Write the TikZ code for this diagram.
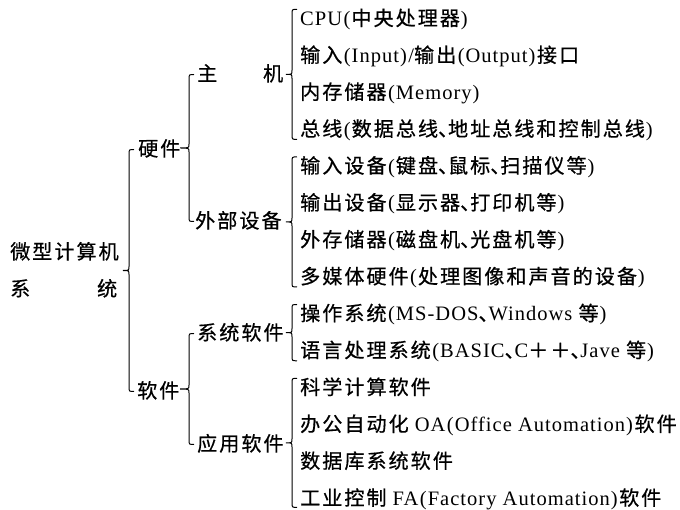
\documentclass[tikz,border=0pt]{standalone}
\usepackage{fontspec}
\setmainfont[LetterSpace=5]{Liberation Serif}
\newfontfamily\cjk[Scale=0.98,LetterSpace=10,FakeBold=0.6]{Noto Sans CJK SC}
\newcommand\zh[1]{{\cjk #1}}
\newcommand\lp{\hspace{1.5pt}(\hspace{1pt}}
\newcommand\rp{\hspace{1pt})\hspace{1.5pt}}
\newcommand\dn{\makebox[10pt][l]{\cjk 、}}
\usetikzlibrary{calc}
\tikzset{
  lbl/.style={anchor=base west, inner sep=0pt, text height=16pt, text depth=3pt,
    font=\fontsize{20.5}{22}\selectfont},
  brk/.style={line width=1pt, to path={let \p1=(\tikztostart), \p2=(\tikztotarget),
     \p3=($(\tikztostart)!0.5!(\tikztotarget)$) in
     (\x1,\y1) .. controls (\x1-5pt,\y1) .. (\x1-5pt,\y1-5pt)
     -- (\x1-5pt,\y3+4pt) .. controls (\x1-5pt,\y3) .. (\x1-5pt-#1,\y3)
     .. controls (\x1-5pt,\y3) .. (\x1-5pt,\y3-4pt)
     -- (\x1-5pt,\y2+5pt) .. controls (\x1-5pt,\y2) .. (\x1,\y2)}}
}
\begin{document}
\begin{tikzpicture}[x=1pt,y=-1pt]
\useasboundingbox (0,0) rectangle (680,510);
% right column items
\node[lbl] (i1) at (300,25.5) {CPU\lp\zh{中央处理器}\rp};
\node[lbl] (i2) at (300,62.4) {\zh{输入}\lp Input\rp/\zh{输出}\lp Output\rp\zh{接口}};
\node[lbl] (i3) at (300,99.3) {\zh{内存储器}\lp Memory\rp};
\node[lbl] (i4) at (300,136.2) {\zh{总线}\lp\zh{数据总线}\dn\zh{地址总线和控制总线}\rp};
\node[lbl] (i5) at (300,173.1) {\zh{输入设备}\lp\zh{键盘}\dn\zh{鼠标}\dn\zh{扫描仪等}\rp};
\node[lbl] (i6) at (300,210) {\zh{输出设备}\lp\zh{显示器}\dn\zh{打印机等}\rp};
\node[lbl] (i7) at (300,246.9) {\zh{外存储器}\lp\zh{磁盘机}\dn\zh{光盘机等}\rp};
\node[lbl] (i8) at (300,283.8) {\zh{多媒体硬件}\lp\zh{处理图像和声音的设备}\rp};
\node[lbl] (i9) at (300,320.7) {\zh{操作系统}\lp MS-DOS\dn Windows \zh{等}\rp};
\node[lbl] (i10) at (300,357.6) {\zh{语言处理系统}\lp BASIC\dn C\zh{＋＋}\dn Jave \zh{等}\rp};
\node[lbl] (i11) at (300,394.5) {\zh{科学计算软件}};
\node[lbl] (i12) at (300,431.4) {\zh{办公自动化} OA\lp Office Automation\rp\zh{软件}};
\node[lbl] (i13) at (300,468.3) {\zh{数据库系统软件}};
\node[lbl] (i14) at (300,505.2) {\zh{工业控制} FA\lp Factory Automation\rp\zh{软件}};
% level 2
\node[lbl] (zj) at (197,81) {\makebox[86pt][s]{\zh{主}\hfill\zh{机}}};
\node[lbl] (wb) at (195,228) {\zh{外部设备}};
\node[lbl] (xt) at (197,340) {\zh{系统软件}};
\node[lbl] (yy) at (197,451) {\zh{应用软件}};
% level 1
\node[lbl] (hw) at (138,156) {\zh{硬件}};
\node[lbl] (sw) at (137,398) {\zh{软件}};
% level 0
\node[lbl] (mA) at (10,259) {\zh{微型计算机}};
\node[lbl] (mB) at (10,296) {\makebox[107pt][s]{\zh{系}\hfill\zh{统}}};
% brace end points
\coordinate (a1) at ([xshift=-3pt]i1.north west);
\coordinate (a2) at ([xshift=-3pt]i4.south west);
\coordinate (b1) at ([xshift=-3pt]i5.north west);
\coordinate (b2) at ([xshift=-3pt]i8.south west);
\coordinate (c1) at ([xshift=-3pt]i9.north west);
\coordinate (c2) at ([xshift=-3pt]i10.south west);
\coordinate (d1) at ([xshift=-3pt]i11.north west);
\coordinate (d2) at ([xshift=-3pt,yshift=1pt]i14.south west);
\coordinate (e1) at ([xshift=-3pt]zj.west);
\coordinate (e2) at ([xshift=-3pt]wb.west);
\coordinate (f1) at ([xshift=-3pt]xt.west);
\coordinate (f2) at ([xshift=-3pt]yy.west);
\coordinate (g1) at ([xshift=-4pt]hw.west);
\coordinate (g2) at ([xshift=-4pt]sw.west);
% braces
\draw[brk=6pt] (a1) to (a2);
\draw[brk=6pt] (b1) to (b2);
\draw[brk=6pt] (c1) to (c2);
\draw[brk=6pt] (d1) to (d2);
\draw[brk=9pt] (e1) to (e2);
\draw[brk=9pt] (f1) to (f2);
\draw[brk=6pt] (g1) to (g2);
\end{tikzpicture}
\end{document}
